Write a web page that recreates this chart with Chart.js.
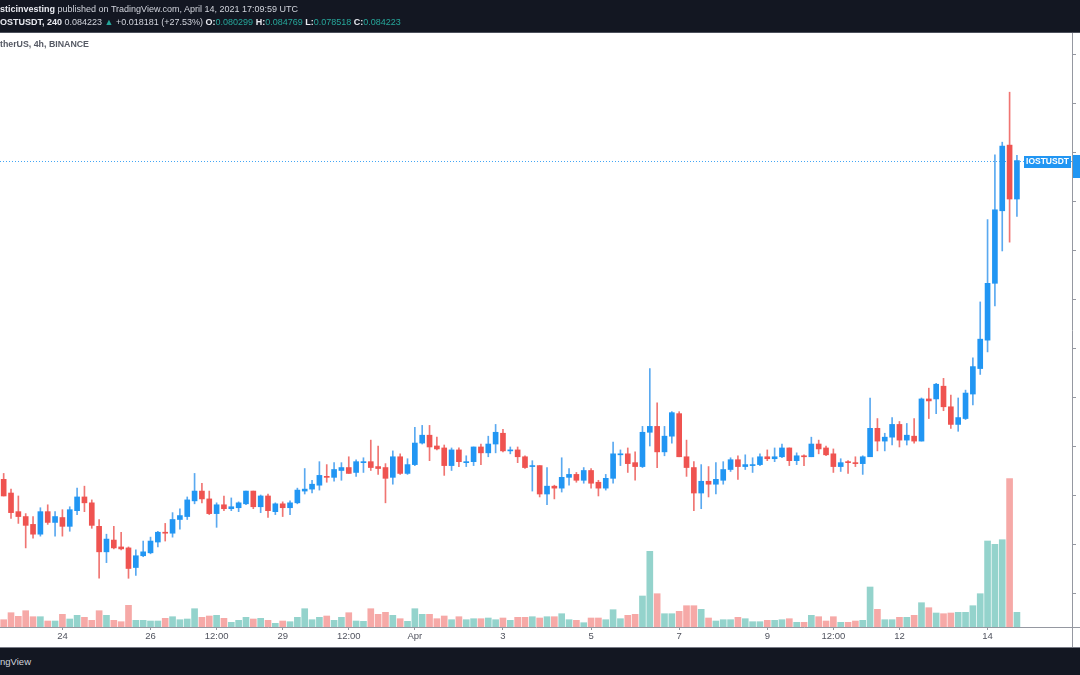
<!DOCTYPE html>
<html>
<head>
<meta charset="utf-8">
<script src="https://cdn.jsdelivr.net/npm/chart.js@4.4.0/dist/chart.umd.min.js"></script>
<style>
  html, body { margin: 0; padding: 0; background: #fff; }
  #wrap { position: relative; width: 1080px; height: 675px; overflow: hidden; font-family: "Liberation Sans", Arial, sans-serif; }
  #hdr { position: absolute; left: 0; top: 0; width: 1080px; height: 32px; background: #131722; border-bottom: 1px solid #4c505b; color: #d1d4dc; font-size: 9px; }
  #hdr .l1 { position: absolute; left: 0; top: 4px; white-space: nowrap; }
  #hdr .l2 { position: absolute; left: 0; top: 17px; white-space: nowrap; }
  #hdr b { color: #e8eaf0; }
  #hdr .g { color: #26a69a; }
  #legend { position: absolute; left: 0; top: 39px; font-size: 8.8px; font-weight: bold; color: #555964; white-space: nowrap; }
  #ftr { position: absolute; left: 0; top: 647px; width: 1080px; height: 28px; background: #131722; border-top: 1px solid #787b86; color: #d1d4dc; font-size: 9.5px; }
  #ftr span { position: absolute; left: 0; top: 8px; }
  canvas { position: absolute; left: 0; top: 0; }
</style>
</head>
<body>
<div id="wrap">
  <canvas id="chart" width="1080" height="675"></canvas>
  <div id="hdr">
    <div class="l1"><b>sticinvesting</b> published on TradingView.com, April 14, 2021 17:09:59 UTC</div>
    <div class="l2"><b>OSTUSDT, 240</b> 0.084223 <span class="g">▲</span> +0.018181 (+27.53%) <b>O:</b><span class="g">0.080299</span> <b>H:</b><span class="g">0.084769</span> <b>L:</b><span class="g">0.078518</span> <b>C:</b><span class="g">0.084223</span></div>
  </div>
  <div id="legend">therUS, 4h, BINANCE</div>
  <div id="ftr"><span>ngView</span></div>
</div>
<script>
// IOST/USDT 4h candles, 22 Mar 16:00 -> 14 Apr 16:00 (UTC)
const opens = [
  0.0517, 0.0503, 0.0484, 0.0479, 0.0471, 0.0461, 0.0484, 0.0473, 0.0478, 0.0469,
  0.0485, 0.0499, 0.0493, 0.0469, 0.0443, 0.0455, 0.0448, 0.0447, 0.0427, 0.0439,
  0.0442, 0.0453, 0.0463, 0.0462, 0.0476, 0.0479, 0.0495, 0.0505, 0.0497, 0.0482,
  0.0491, 0.0487, 0.0488, 0.0492, 0.0505, 0.0489, 0.0500, 0.0484, 0.0492, 0.0488,
  0.0493, 0.0505, 0.0507, 0.0511, 0.0520, 0.0519, 0.0526, 0.0529, 0.0524, 0.0534,
  0.0535, 0.0530, 0.0529, 0.0519, 0.0540, 0.0523, 0.0532, 0.0554, 0.0562, 0.0551,
  0.0549, 0.0531, 0.0547, 0.0534, 0.0535, 0.0550, 0.0544, 0.0553, 0.0564, 0.0546,
  0.0547, 0.0540, 0.0530, 0.0531, 0.0502, 0.0510, 0.0508, 0.0519, 0.0522, 0.0516,
  0.0526, 0.0514, 0.0508, 0.0518, 0.0542, 0.0543, 0.0534, 0.0530, 0.0565, 0.0571,
  0.0545, 0.0561, 0.0584, 0.0540, 0.0529, 0.0503, 0.0515, 0.0512, 0.0516, 0.0527,
  0.0537, 0.0530, 0.0531, 0.0532, 0.0540, 0.0538, 0.0540, 0.0549, 0.0536, 0.0541,
  0.0540, 0.0553, 0.0549, 0.0543, 0.0530, 0.0535, 0.0534, 0.0533, 0.0540, 0.0569,
  0.0556, 0.0560, 0.0573, 0.0557, 0.0561, 0.0556, 0.0599, 0.0599, 0.0612, 0.0591,
  0.0573, 0.0579, 0.0604, 0.0630, 0.0659, 0.0717, 0.0791, 0.0858, 0.080299
];
const highs = [
  0.0523, 0.0507, 0.0500, 0.0482, 0.0479, 0.0488, 0.0491, 0.0484, 0.0486, 0.0489,
  0.0508, 0.0510, 0.0496, 0.0476, 0.0461, 0.0469, 0.0463, 0.0448, 0.0445, 0.0454,
  0.0458, 0.0464, 0.0472, 0.0483, 0.0487, 0.0499, 0.0523, 0.0513, 0.0505, 0.0493,
  0.0500, 0.0498, 0.0494, 0.0505, 0.0505, 0.0501, 0.0502, 0.0493, 0.0494, 0.0495,
  0.0508, 0.0528, 0.0516, 0.0535, 0.0532, 0.0534, 0.0534, 0.0540, 0.0537, 0.0539,
  0.0557, 0.0551, 0.0533, 0.0546, 0.0543, 0.0538, 0.0570, 0.0572, 0.0572, 0.0560,
  0.0552, 0.0549, 0.0549, 0.0541, 0.0550, 0.0553, 0.0561, 0.0573, 0.0568, 0.0550,
  0.0550, 0.0541, 0.0536, 0.0531, 0.0529, 0.0511, 0.0539, 0.0528, 0.0524, 0.0529,
  0.0528, 0.0516, 0.0522, 0.0555, 0.0547, 0.0549, 0.0545, 0.0571, 0.0630, 0.0595,
  0.0571, 0.0586, 0.0586, 0.0557, 0.0535, 0.0532, 0.0530, 0.0534, 0.0535, 0.0539,
  0.0541, 0.0542, 0.0539, 0.0543, 0.0547, 0.0549, 0.0553, 0.0549, 0.0544, 0.0542,
  0.0560, 0.0557, 0.0551, 0.0548, 0.0538, 0.0536, 0.0540, 0.0541, 0.0600, 0.0579,
  0.0564, 0.0580, 0.0576, 0.0574, 0.0579, 0.0600, 0.0610, 0.0615, 0.0620, 0.0603,
  0.0600, 0.0608, 0.0641, 0.0698, 0.0782, 0.0848, 0.0861, 0.0912, 0.084769
];
const lows = [
  0.0500, 0.0477, 0.0472, 0.0447, 0.0457, 0.0459, 0.0471, 0.0459, 0.0459, 0.0464,
  0.0481, 0.0484, 0.0467, 0.0416, 0.0432, 0.0446, 0.0445, 0.0416, 0.0419, 0.0438,
  0.0441, 0.0448, 0.0454, 0.0458, 0.0466, 0.0476, 0.0492, 0.0493, 0.0481, 0.0468,
  0.0485, 0.0485, 0.0484, 0.0491, 0.0487, 0.0483, 0.0478, 0.0481, 0.0479, 0.0481,
  0.0492, 0.0502, 0.0503, 0.0506, 0.0514, 0.0515, 0.0516, 0.0523, 0.0520, 0.0524,
  0.0526, 0.0522, 0.0493, 0.0512, 0.0522, 0.0522, 0.0531, 0.0553, 0.0536, 0.0547,
  0.0521, 0.0526, 0.0530, 0.0530, 0.0531, 0.0532, 0.0540, 0.0544, 0.0545, 0.0543,
  0.0534, 0.0528, 0.0505, 0.0499, 0.0491, 0.0497, 0.0504, 0.0511, 0.0514, 0.0513,
  0.0508, 0.0500, 0.0506, 0.0513, 0.0531, 0.0524, 0.0516, 0.0529, 0.0551, 0.0529,
  0.0541, 0.0554, 0.0540, 0.0520, 0.0485, 0.0487, 0.0499, 0.0502, 0.0512, 0.0525,
  0.0517, 0.0527, 0.0524, 0.0531, 0.0536, 0.0535, 0.0539, 0.0531, 0.0532, 0.0531,
  0.0540, 0.0543, 0.0541, 0.0524, 0.0525, 0.0523, 0.0530, 0.0522, 0.0540, 0.0546,
  0.0546, 0.0552, 0.0550, 0.0552, 0.0554, 0.0556, 0.0579, 0.0584, 0.0587, 0.0569,
  0.0566, 0.0578, 0.0593, 0.0624, 0.0647, 0.0694, 0.0750, 0.0759, 0.078518
];
const closes = [
  0.0500, 0.0483, 0.0479, 0.0470, 0.0461, 0.0484, 0.0473, 0.0479, 0.0469, 0.0486,
  0.0499, 0.0493, 0.0470, 0.0443, 0.0456, 0.0447, 0.0446, 0.0426, 0.0439, 0.0443,
  0.0454, 0.0463, 0.0462, 0.0476, 0.0480, 0.0496, 0.0505, 0.0497, 0.0482, 0.0491,
  0.0487, 0.0489, 0.0493, 0.0505, 0.0489, 0.0500, 0.0485, 0.0492, 0.0488, 0.0493,
  0.0506, 0.0507, 0.0512, 0.0521, 0.0519, 0.0527, 0.0529, 0.0523, 0.0535, 0.0535,
  0.0529, 0.0528, 0.0518, 0.0540, 0.0523, 0.0532, 0.0554, 0.0562, 0.0550, 0.0548,
  0.0531, 0.0547, 0.0535, 0.0535, 0.0550, 0.0544, 0.0553, 0.0565, 0.0546, 0.0547,
  0.0540, 0.0529, 0.0531, 0.0502, 0.0510, 0.0508, 0.0519, 0.0522, 0.0516, 0.0526,
  0.0513, 0.0508, 0.0518, 0.0543, 0.0543, 0.0533, 0.0530, 0.0565, 0.0571, 0.0545,
  0.0561, 0.0585, 0.0540, 0.0529, 0.0503, 0.0515, 0.0512, 0.0517, 0.0527, 0.0537,
  0.0530, 0.0532, 0.0532, 0.0540, 0.0538, 0.0540, 0.0549, 0.0536, 0.0541, 0.0540,
  0.0553, 0.0548, 0.0542, 0.0530, 0.0534, 0.0534, 0.0533, 0.0540, 0.0569, 0.0556,
  0.0560, 0.0573, 0.0557, 0.0562, 0.0556, 0.0599, 0.0597, 0.0614, 0.0591, 0.0573,
  0.0580, 0.0605, 0.0632, 0.0660, 0.0717, 0.0792, 0.0857, 0.0803, 0.084223
];
// volume (relative units)
const volumes = [
  7.3, 14.3, 10.7, 16.3, 10.3, 10.3, 6, 6, 12.7, 8,
  11.7, 9.7, 6.7, 16.3, 11.7, 6.7, 5.3, 21.7, 6.7, 6.7,
  6, 6, 8.7, 10.3, 7.3, 8, 18.3, 9.7, 11, 11.7,
  8.7, 4.7, 6.7, 9.7, 8, 8.7, 6.7, 3.7, 6, 5.3,
  9.7, 18.3, 7.3, 9.7, 11, 6.7, 9.7, 14.3, 6, 5.7,
  18.3, 12.7, 14.7, 11.7, 8.3, 5.7, 18.3, 12.7, 12.7, 8.3,
  11, 7.3, 10.3, 7.3, 8.3, 8.3, 9, 7.3, 9, 6.7,
  9.7, 9.7, 10.3, 9, 10.3, 10.3, 13.3, 7.3, 6.7, 4.3,
  9, 9, 7.3, 17.3, 8.3, 11.7, 12.7, 31, 75.7, 33.3,
  13.3, 13.3, 15.7, 21.3, 21.3, 17.7, 9, 6, 7.3, 7.3,
  9.7, 8.3, 5.3, 5.3, 6.7, 6.7, 7.3, 8.3, 4.7, 4.7,
  11.7, 10.3, 6, 10.3, 4.7, 4.7, 6, 6.7, 40, 17.7,
  7.3, 7.3, 9.7, 9.7, 11.7, 24.3, 19.3, 14, 13.3, 14,
  14.7, 14.7, 21.3, 33.3, 86, 82.7, 87.3, 148.3, 14.7
];
const xTickIndex = [8, 20, 29, 38, 47, 56, 68, 80, 92, 104, 113, 122, 134];
const xTickText = ['24', '26', '12:00', '29', '12:00', 'Apr', '3', '5', '7', '9', '12:00', '12', '14'];
const priceTicks = [0.04, 0.045, 0.05, 0.055, 0.06, 0.065, 0.07, 0.075, 0.08, 0.085, 0.09, 0.095];
const priceMin = 0.03663, priceMax = 0.09724;
const volumeMax = 594;
const lastPrice = 0.084223;

// 4h slots, plus empty room on the right like TradingView
const categories = [];
const t0 = Date.UTC(2021, 2, 22, 16);
for (let i = 0; i < 146; i++) {
  categories.push(new Date(t0 + i * 4 * 3600e3).toISOString().slice(5, 16));
}

const UP = '#2196f3', DOWN = '#ef5350';
const isUp = closes.map((c, i) => c >= opens[i]);

const overlay = {
  id: 'overlay',
  beforeDatasetsDraw(chart) {
    const { ctx, chartArea: a, scales: { y } } = chart;
    const py = Math.round(y.getPixelForValue(lastPrice)) + 0.5;
    ctx.save();
    ctx.strokeStyle = 'rgba(33,150,243,0.85)';
    ctx.lineWidth = 1;
    ctx.setLineDash([1, 2]);
    ctx.beginPath();
    ctx.moveTo(a.left, py);
    ctx.lineTo(a.right, py);
    ctx.stroke();
    ctx.restore();
  },
  afterDraw(chart) {
    const { ctx, chartArea: a, scales: { y } } = chart;
    const py = Math.round(y.getPixelForValue(lastPrice));
    ctx.save();
    // axis lines continued into the time axis strip
    ctx.strokeStyle = '#9598a1';
    ctx.lineWidth = 1;
    ctx.beginPath();
    ctx.moveTo(a.right + 0.5, a.bottom);
    ctx.lineTo(a.right + 0.5, 647);
    ctx.moveTo(a.right, a.bottom + 0.5);
    ctx.lineTo(1080, a.bottom + 0.5);
    ctx.stroke();
    // symbol label
    ctx.fillStyle = UP;
    ctx.fillRect(a.right - 48, py - 5, 47, 12);
    ctx.fillStyle = '#fff';
    ctx.font = 'bold 8.5px "Liberation Sans", Arial, sans-serif';
    ctx.textAlign = 'center';
    ctx.textBaseline = 'middle';
    ctx.fillText('IOSTUSDT', a.right - 24.5, py + 1);
    // price tag on the axis
    ctx.fillStyle = UP;
    ctx.fillRect(a.right + 1, py - 6, 8, 23);
    ctx.restore();
  }
};

new Chart(document.getElementById('chart'), {
  type: 'bar',
  data: {
    labels: categories,
    datasets: [
      {
        label: 'body',
        data: opens.map((o, i) => [o, closes[i]]),
        backgroundColor: isUp.map(u => u ? UP : DOWN),
        barThickness: 5,
        minBarLength: 1,
        grouped: false,
        order: 1,
        yAxisID: 'y'
      },
      {
        label: 'wick',
        data: lows.map((l, i) => [l, highs[i]]),
        backgroundColor: isUp.map(u => u ? '#5aa9f0' : '#f07572'),
        barThickness: 1,
        grouped: false,
        order: 2,
        yAxisID: 'y'
      },
      {
        label: 'volume',
        data: volumes,
        backgroundColor: isUp.map(u => u ? '#94d3cc' : '#f6a9a7'),
        barThickness: 6,
        grouped: false,
        order: 3,
        yAxisID: 'v'
      }
    ]
  },
  options: {
    responsive: false,
    animation: false,
    layout: { padding: { top: 33, bottom: 28, left: 0, right: 0 } },
    plugins: { legend: { display: false }, tooltip: { enabled: false } },
    scales: {
      x: {
        offset: true,
        afterBuildTicks: s => { s.ticks = xTickIndex.map(v => ({ value: v })); },
        afterFit: s => { s.height = 20; },
        ticks: {
          autoSkip: false, maxRotation: 0, padding: 1, color: '#50535e',
          font: { size: 9.5, family: '"Liberation Sans", Arial, sans-serif' },
          callback: v => xTickText[xTickIndex.indexOf(v)]
        },
        grid: { drawOnChartArea: false, offset: false, tickLength: 3, color: '#9598a1' },
        border: { color: '#9598a1' }
      },
      y: {
        position: 'right',
        min: priceMin, max: priceMax,
        afterBuildTicks: s => { s.ticks = priceTicks.map(v => ({ value: v })); },
        afterFit: s => { s.width = 8; },
        ticks: { display: false },
        grid: { drawOnChartArea: false, tickLength: 4, color: '#9598a1' },
        border: { color: '#9598a1' }
      },
      v: {
        display: false,
        min: 0, max: volumeMax
      }
    }
  },
  plugins: [overlay]
});
</script>
</body>
</html>
